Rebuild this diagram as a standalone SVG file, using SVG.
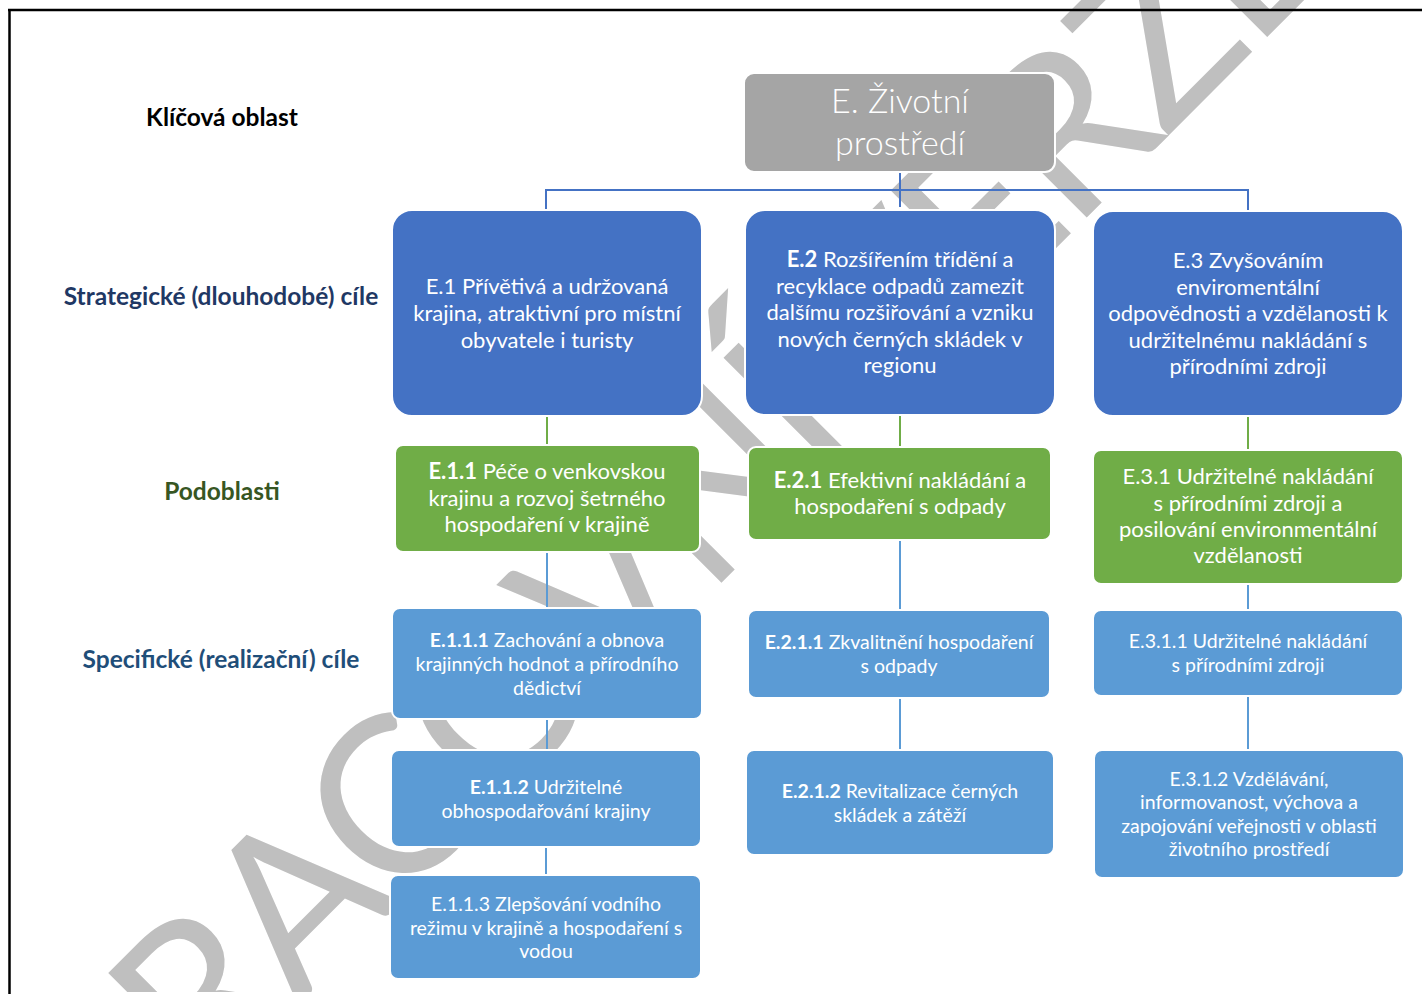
<svg xmlns="http://www.w3.org/2000/svg" width="1422" height="994" viewBox="0 0 1422 994">
<defs>
<style>
text{font-family:Lato,"Liberation Sans","DejaVu Sans",sans-serif}
.wm{fill:#bfbfbf;font-size:220px;font-weight:400}
.lab{font-weight:bold;font-size:24.5px;text-anchor:middle}
.box{stroke:#ffffff;stroke-width:2}
.gray{fill:#a5a5a5}
.s1{fill:#4472c4}
.s2{fill:#70ad47}
.s3{fill:#5b9bd5}
.t{fill:#ffffff;text-anchor:middle}
.t1{font-size:22px}
.t3{font-size:19.5px}
.b{font-weight:bold}
.c1{stroke:#4472c4;stroke-width:2;fill:none}
.c2{stroke:#70ad47;stroke-width:2;fill:none}
.c3{stroke:#5b9bd5;stroke-width:2;fill:none}
</style>
</defs>
<rect width="1422" height="994" fill="#ffffff"/>
<text class="wm" x="670" y="514" transform="rotate(-45 670 514)" text-anchor="middle" dominant-baseline="central" textLength="1733" lengthAdjust="spacing">PRACOVNÍ VERZE</text>
<rect x="0" y="992" width="1422" height="2" fill="#ffffff"/>
<g id="frame" stroke="#000000" stroke-width="2.5" fill="none">
<path d="M8 10 H1422 M9.5 10 V994"/>
</g>
<g id="labels">
<text class="lab" x="222" y="126" fill="#000000">Klíčová oblast</text>
<text class="lab" x="221" y="305" fill="#1f3864">Strategické (dlouhodobé) cíle</text>
<text class="lab" x="222" y="500" fill="#375623">Podoblasti</text>
<text class="lab" x="221" y="668" fill="#1f4e79">Specifické (realizační) cíle</text>
</g>
<g id="connectors">
<path class="c1" d="M900 172 V207 M546 210 V190 H1248 V210"/>
<path class="c2" d="M547 416 V445 M900 415 V447 M1248 416 V450"/>
<path class="c3" d="M547 552 V609 M547 719 V750 M546 847 V875 M900 540 V610 M900 698 V750 M1248 584 V610 M1248 696 V750"/>
</g>
<g id="E">
<rect class="box gray" x="744" y="73" width="311" height="99" rx="10"/>
<text class="t" x="900" y="113" font-size="34" font-weight="300">E. Životní</text>
<text class="t" x="900" y="155" font-size="34" font-weight="300">prostředí</text>
</g>
<g id="E1">
<rect class="box s1" x="392" y="210" width="310" height="206" rx="20"/>
<text class="t t1" x="547" y="294">E.1 Přívětivá a udržovaná</text>
<text class="t t1" x="547" y="321">krajina, atraktivní pro místní</text>
<text class="t t1" x="547" y="348">obyvatele i turisty</text>
</g>
<g id="E2">
<rect class="box s1" x="745" y="210" width="310" height="205" rx="20"/>
<text class="t t1" x="900" y="267"><tspan class="b">E.2</tspan> Rozšířením třídění a</text>
<text class="t t1" x="900" y="294">recyklace odpadů zamezit</text>
<text class="t t1" x="900" y="320">dalšímu rozšiřování a vzniku</text>
<text class="t t1" x="900" y="347">nových černých skládek v</text>
<text class="t t1" x="900" y="373">regionu</text>
</g>
<g id="E3">
<rect class="box s1" x="1093" y="211" width="310" height="205" rx="20"/>
<text class="t t1" x="1248" y="268">E.3 Zvyšováním</text>
<text class="t t1" x="1248" y="295">enviromentální</text>
<text class="t t1" x="1248" y="321">odpovědnosti a vzdělanosti k</text>
<text class="t t1" x="1248" y="348">udržitelnému nakládání s</text>
<text class="t t1" x="1248" y="374">přírodními zdroji</text>
</g>
<g id="E11">
<rect class="box s2" x="395" y="445" width="305" height="107" rx="8"/>
<text class="t t1" x="547" y="479"><tspan class="b">E.1.1</tspan> Péče o venkovskou</text>
<text class="t t1" x="547" y="506">krajinu a rozvoj šetrného</text>
<text class="t t1" x="547" y="532">hospodaření v krajině</text>
</g>
<g id="E21">
<rect class="box s2" x="748" y="447" width="303" height="93" rx="8"/>
<text class="t t1" x="900" y="488"><tspan class="b">E.2.1</tspan> Efektivní nakládání a</text>
<text class="t t1" x="900" y="514">hospodaření s odpady</text>
</g>
<g id="E31">
<rect class="box s2" x="1093" y="450" width="310" height="134" rx="8"/>
<text class="t t1" x="1248" y="484">E.3.1 Udržitelné nakládání</text>
<text class="t t1" x="1248" y="511">s přírodními zdroji a</text>
<text class="t t1" x="1248" y="537">posilování environmentální</text>
<text class="t t1" x="1248" y="563">vzdělanosti</text>
</g>
<g id="E111">
<rect class="box s3" x="392" y="608" width="310" height="111" rx="8"/>
<text class="t t3" x="547" y="647"><tspan class="b">E.1.1.1</tspan> Zachování a obnova</text>
<text class="t t3" x="547" y="671">krajinných hodnot a přírodního</text>
<text class="t t3" x="547" y="695">dědictví</text>
</g>
<g id="E112">
<rect class="box s3" x="391" y="750" width="310" height="97" rx="8"/>
<text class="t t3" x="546" y="794"><tspan class="b">E.1.1.2</tspan> Udržitelné</text>
<text class="t t3" x="546" y="818">obhospodařování krajiny</text>
</g>
<g id="E113">
<rect class="box s3" x="390" y="875" width="311" height="104" rx="8"/>
<text class="t t3" x="546" y="911">E.1.1.3 Zlepšování vodního</text>
<text class="t t3" x="546" y="935">režimu v krajině a hospodaření s</text>
<text class="t t3" x="546" y="958">vodou</text>
</g>
<g id="E211">
<rect class="box s3" x="748" y="610" width="302" height="88" rx="8"/>
<text class="t t3" x="899" y="649"><tspan class="b">E.2.1.1</tspan> Zkvalitnění hospodaření</text>
<text class="t t3" x="899" y="673">s odpady</text>
</g>
<g id="E212">
<rect class="box s3" x="746" y="750" width="308" height="105" rx="8"/>
<text class="t t3" x="900" y="798"><tspan class="b">E.2.1.2</tspan> Revitalizace černých</text>
<text class="t t3" x="900" y="822">skládek a zátěží</text>
</g>
<g id="E311">
<rect class="box s3" x="1093" y="610" width="310" height="86" rx="8"/>
<text class="t t3" x="1248" y="648">E.3.1.1 Udržitelné nakládání</text>
<text class="t t3" x="1248" y="672">s přírodními zdroji</text>
</g>
<g id="E312">
<rect class="box s3" x="1094" y="750" width="310" height="128" rx="8"/>
<text class="t t3" x="1249" y="786">E.3.1.2 Vzdělávání,</text>
<text class="t t3" x="1249" y="809">informovanost, výchova a</text>
<text class="t t3" x="1249" y="833">zapojování veřejnosti v oblasti</text>
<text class="t t3" x="1249" y="856">životního prostředí</text>
</g>
</svg>
